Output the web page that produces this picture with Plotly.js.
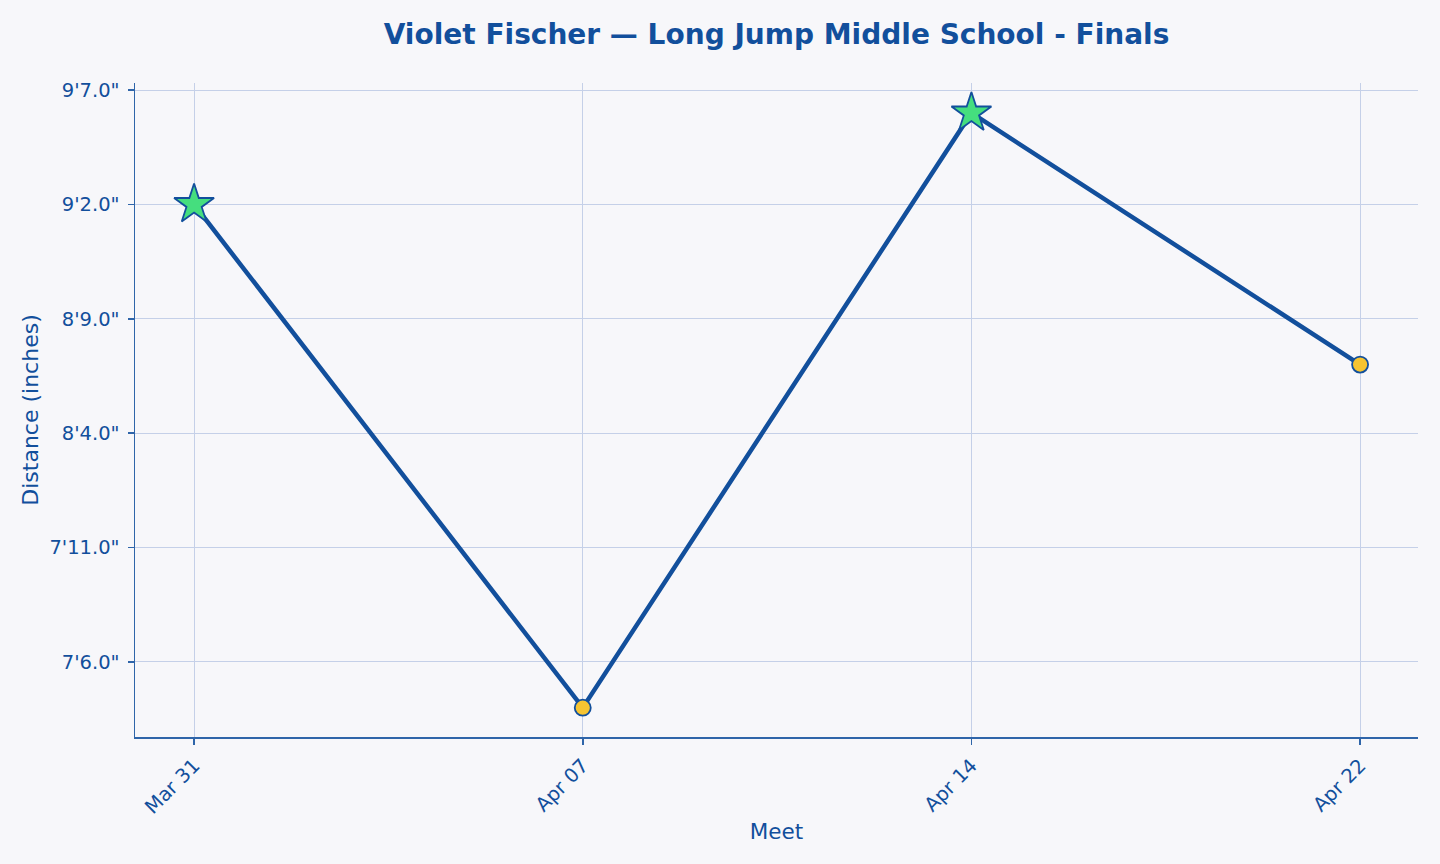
<!DOCTYPE html>
<html>
<head>
<meta charset="utf-8">
<script src="https://cdn.plot.ly/plotly-3.0.1.min.js"></script>
<style>html,body{margin:0;padding:0;background:#f7f7fa;}#chart{width:1440px;height:864px;}</style>
</head>
<body>
<div id="chart"></div>
<script>
const meets = ["Mar 31", "Apr 07", "Apr 14", "Apr 22"];
const distances = [110, 88, 114, 103];
const markerSymbols = ["star", "circle", "star", "circle"];
const markerColors = ["#45de7e", "#f6c431", "#45de7e", "#f6c431"];
const markerSizes = [30, 16, 30, 16];
const yTickVals = [90, 95, 100, 105, 110, 115];
const yTickText = ["7'6.0\"", "7'11.0\"", "8'4.0\"", "8'9.0\"", "9'2.0\"", "9'7.0\""];

const blue = "#124f9c";
const trace = {
  x: meets,
  y: distances,
  type: "scatter",
  mode: "lines+markers",
  line: {color: blue, width: 4.5},
  marker: {symbol: markerSymbols, color: markerColors, size: markerSizes, opacity: 1, line: {color: blue, width: 1.8}},
  hoverinfo: "none",
  showlegend: false
};

const font = "DejaVu Sans, sans-serif";
const layout = {
  width: 1440, height: 864,
  paper_bgcolor: "#f7f7fa",
  plot_bgcolor: "#f7f7fa",
  margin: {l: 135, r: 22, t: 83, b: 127},
  font: {family: font, color: blue},
  title: {text: "<b>Violet Fischer — Long Jump Middle School - Finals</b>", font: {family: font, size: 28, color: blue}, x: 0.5, xref: "paper", xanchor: "center", y: 0.96, yref: "container", yanchor: "middle"},
  xaxis: {
    type: "category",
    range: [-0.152, 3.149],
    title: {text: "Meet", font: {family: font, size: 21.5, color: blue}, standoff: 6},
    tickangle: -45,
    tickfont: {family: font, size: 19.5, color: blue},
    ticklabelstandoff: 2,
    showline: true, linecolor: "#2f65a9", linewidth: 1.5,
    ticks: "outside", ticklen: 6, tickwidth: 1.5, tickcolor: "#2f65a9",
    showgrid: true, gridcolor: "#c5d0e8", gridwidth: 1,
    zeroline: false, mirror: false
  },
  yaxis: {
    range: [86.72, 115.31],
    tickvals: yTickVals, ticktext: yTickText,
    title: {text: "Distance (inches)", font: {family: font, size: 22, color: blue}, standoff: 4},
    tickfont: {family: font, size: 19.5, color: blue},
    ticklabelstandoff: 4,
    showline: true, linecolor: "#2f65a9", linewidth: 1.5,
    ticks: "outside", ticklen: 6, tickwidth: 1.5, tickcolor: "#2f65a9",
    showgrid: true, gridcolor: "#c5d0e8", gridwidth: 1,
    zeroline: false, mirror: false
  }
};

Plotly.newPlot("chart", [trace], layout, {displayModeBar: false, staticPlot: true});
</script>
</body>
</html>
